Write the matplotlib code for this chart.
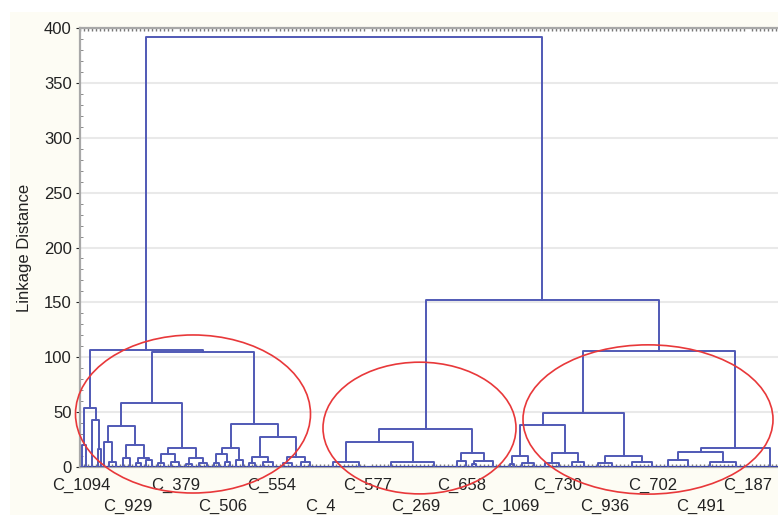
import matplotlib
matplotlib.use("Agg")
import matplotlib.pyplot as plt
from matplotlib.patches import Ellipse, Rectangle
from matplotlib.ticker import MultipleLocator, FixedLocator, NullFormatter

plt.rcParams['font.family'] = ['Liberation Sans', 'DejaVu Sans']

# Cluster tree: a node is [linkage distance, left, right]; an int is a run of
# leaves that join at (almost) zero distance.
left_outliers = [54, [20, 3, 5], [43, 8, [16, 3, 3]]]
left_core_a = [37, [23, 3, [5, 7, 8]], [20, [8, 6, 7], [8, [4, 5, 5], [6, 6, 6]]]]
left_core_b = [17.5, [12, [4, 6, 6], [5, 8, 8]], [8, [3, 6, 6], [4, 8, 8]]]
left_tail_a = [17, [12, [4, 5, 6], [5, 5, 6]], [6, 6, 7]]
left_tail_b = [27.5, [9, [4, 6, 6], [5, 10, 10]], [9, [4, 9, 9], [5, 9, 9]]]
left_group = [107, left_outliers,
              [105, [58, left_core_a, left_core_b], [39, left_tail_a, left_tail_b]]]

middle_group = [34.5,
                [23, [4.5, 38, 14], [4.5, 50, 36]],
                [12.5, [5.5, 9, 9], [5.5, [3, 4, 4], 30]]]

right_core = [49,
              [38, [10, [3, 4, 4], [4, 12, 12]], [12.5, [4, 10, 18], [5, 8, 16]]],
              [10, [4, 12, 16], [5, 24, 16]]]
right_tail = [17, [13.5, [6, 16, 24], [5, 20, 32]], 36]
right_group = [106, right_core, right_tail]

tree = [392, left_group, [152, middle_group, right_group]]

# case labels and the leaf they sit under (two staggered rows)
upper_names = ["C_1094", "C_379", "C_554", "C_577", "C_658", "C_730", "C_702", "C_187"]
upper_leaves = [1, 96, 192, 288, 382, 478, 573, 668]
lower_names = ["C_929", "C_506", "C_4", "C_269", "C_1069", "C_936", "C_491"]
lower_leaves = [48, 143, 240, 336, 430, 525, 621]

# highlighted groups: centre x, centre y, width, height
groups_x = [113, 339.5, 568]
groups_y = [48.3, 35.5, 43.3]
groups_w = [235, 193, 250]
groups_h = [144, 120, 136]

line_color = '#5059b6'
text_color = '#222222'

fig = plt.figure(figsize=(7.78, 5.16), dpi=100, facecolor='white')
fig.patches.append(Rectangle((10 / 778, 1 / 516), 768 / 778, 503 / 516,
                             transform=fig.transFigure, facecolor='#fdfcf4',
                             edgecolor='none', zorder=-10))
ax = fig.add_axes([80 / 778, 49 / 516, 698 / 778, 439 / 516])
ax.set_facecolor('white')


def draw(node, start):
    if isinstance(node, int):
        ax.plot([start, start + node], [0, 0], color='#3a44a8', lw=2.2,
                solid_capstyle='butt', zorder=3)
        return start + node / 2, 0.0, start + node
    h, left, right = node
    xl, hl, pos = draw(left, start)
    xr, hr, pos = draw(right, pos)
    ax.plot([xl, xl, xr, xr], [hl, h, h, hr], color=line_color, lw=1.4, zorder=3)
    return (xl + xr) / 2, h, pos


draw(tree, 0)

for cx, cy, w, h in zip(groups_x, groups_y, groups_w, groups_h):
    ax.add_patch(Ellipse((cx, cy), w, h, fill=False, edgecolor='#e8383a',
                         lw=1.2, clip_on=False, zorder=5))

ax.set_xlim(0, 698)
ax.set_ylim(0, 400)

ax.yaxis.set_major_locator(MultipleLocator(50))
ax.yaxis.set_minor_locator(MultipleLocator(10))
ax.yaxis.grid(True, color='#e9e9e9', lw=1.5)
ax.set_axisbelow(True)

ax.xaxis.set_major_locator(FixedLocator(upper_leaves))
ax.set_xticklabels(upper_names)
ax.xaxis.set_minor_locator(MultipleLocator(4))
ax.xaxis.set_minor_formatter(NullFormatter())

ax.tick_params(axis='x', which='major', length=0, pad=8, labelsize=12, colors=text_color)
ax.tick_params(axis='x', which='minor', length=2, direction='in', top=True,
               color='#777777', width=1)
ax.tick_params(axis='y', which='major', length=3, direction='out', labelsize=12,
               colors=text_color, pad=3)
ax.tick_params(axis='y', which='minor', length=2, direction='in', color='#777777')

# second row of case labels
lower = ax.secondary_xaxis('bottom')
lower.set_xticks(lower_leaves, lower_names)
lower.tick_params(axis='x', length=0, pad=23, labelsize=12, colors=text_color)
lower.spines['bottom'].set_visible(False)

for side in ['left', 'top', 'bottom']:
    ax.spines[side].set_color('#a8a8a8')
    ax.spines[side].set_linewidth(1.6)
ax.spines['right'].set_visible(False)

ax.set_ylabel('Linkage Distance', fontsize=12, color=text_color)
ax.yaxis.set_label_coords(-0.069, 0.5)

fig.savefig('out.png', dpi=100, facecolor=fig.get_facecolor())
